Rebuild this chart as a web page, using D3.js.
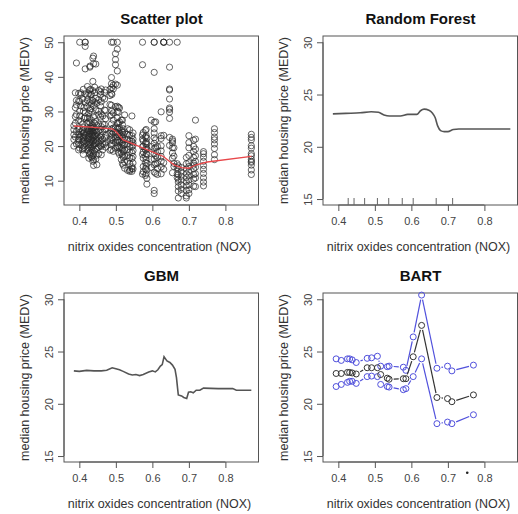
<!DOCTYPE html>
<html><head><meta charset="utf-8">
<script src="https://cdn.jsdelivr.net/npm/d3@7"></script>
<style>body{margin:0;background:#fff} text{font-family:"Liberation Sans",Arial,Helvetica,sans-serif}</style>
</head><body><svg id="c" width="518" height="514"></svg>
<script>
const panelTitles = ["Scatter plot", "Random Forest", "GBM", "BART"];
const xTitle = "nitrix oxides concentration (NOX)";
const yTitle = "median housing price (MEDV)";
const xTicks = [0.4, 0.5, 0.6, 0.7, 0.8];
const yTicksScatter = [10, 20, 30, 40, 50];
const yTicksModel = [15, 20, 25, 30];

// scatter: [nox, [medv values]]
const scatterGroups = [
[0.385,[21.9,24.7,20.0,23.3,25.9]],
[0.389,[26.6,31.1,35.4,28.5,22.6]],
[0.392,[33.2,29.1,44.0,24.2,20.6,31.9]],
[0.398,[18.9,21.7,20.5,23.3,24.8,22.0,33.0,35.2,27.4]],
[0.401,[25.0,50.0,32.9,22.6,28.7,30.1,19.4]],
[0.404,[35.4,31.6,34.9,27.1,24.1,22.8,20.4]],
[0.409,[24.4,20.1,21.4,22.6,19.3,18.9,24.8,26.4,33.6]],
[0.411,[30.1,25.3,23.5,22.2,21.2,36.4,17.6]],
[0.413,[23.9,22.5,21.7,19.6,28.0,31.2]],
[0.416,[20.8,23.1,35.1,32.5,29.6,28.4,42.3,50.0,48.8,50.0]],
[0.422,[37.2,34.6,28.1,24.1,22.0,21.4,24.8,26.6,31.5,33.3,19.0]],
[0.426,[19.5,20.4,22.3,24.5,29.4,18.6,16.5,23.4,35.2,27.0]],
[0.428,[22.8,24.2,25.1,36.2,32.6,28.0,20.9,17.8]],
[0.429,[42.8,21.1,19.8,17.5,23.6,26.7,30.3,43.1]],
[0.431,[18.2,20.5,22.0,24.3,30.8,34.9,36.4,25.6]],
[0.433,[19.4,21.7,23.4,25.0,27.5,32.2,35.0,16.9,24.4]],
[0.435,[16.6,18.8,21.2,22.9,24.4,26.2,29.8,33.2]],
[0.437,[15.6,17.2,19.9,22.4,24.1,33.1,36.0,38.7,45.4,23.2,25.3]],
[0.439,[14.4,16.0,17.8,20.3,22.6,25.3,28.5,31.7,46.0,43.8,21.5,24.0]],
[0.442,[18.5,20.6,22.9,26.6,35.4,37.0,24.6,32.7]],
[0.445,[16.2,19.1,20.8,23.2,24.5,27.1,30.5,33.8,21.9,43.7]],
[0.448,[14.6,17.4,19.4,21.5,24.0,25.9,32.4,22.7]],
[0.453,[17.8,19.7,22.2,24.3,26.4,29.0,30.1,33.4,36.1,20.9]],
[0.458,[20.1,22.6,24.8,28.4,34.9,35.7,31.6]],
[0.460,[17.5,19.9,21.6,23.0,25.6,32.8,36.5,29.3]],
[0.464,[18.9,20.6,22.0,24.1,28.7,34.0,26.3]],
[0.469,[20.5,22.4,24.8,26.2,33.6,35.5,30.4]],
[0.472,[19.7,21.0,23.1,25.0,30.3,36.2,27.9]],
[0.484,[18.8,21.5,23.7,28.7,34.6,36.4,32.0]],
[0.488,[19.0,20.3,22.5,24.4,26.4,29.0,35.2,38.0,39.8,50.0,31.8]],
[0.489,[20.8,22.0,23.4,25.0,30.1,34.9,36.9]],
[0.493,[18.5,21.6,23.9,27.5,36.5,37.6,50.0,25.2,29.6]],
[0.499,[19.4,21.0,22.6,24.0,25.5,31.4,43.5,45.0,46.7,37.9]],
[0.504,[21.6,23.7,25.0,26.7,28.1,30.0,31.5,37.6,48.0,50.0,41.7,19.6]],
[0.507,[18.2,20.1,21.7,23.3,24.9,26.6,29.8,31.2]],
[0.510,[17.6,19.5,21.2,22.7,23.8,25.3,27.0,31.0]],
[0.515,[16.1,18.0,19.6,21.4,23.0,24.4,27.5]],
[0.518,[15.0,17.4,19.2,20.9,22.3,26.2,27.5,24.0]],
[0.520,[14.5,16.8,18.5,20.3,21.8,23.3,25.0]],
[0.524,[13.6,15.4,17.1,18.9,20.4,22.2,24.1,29.0]],
[0.532,[15.6,17.3,19.0,20.6,21.9,23.4,25.0,13.0]],
[0.538,[13.1,14.9,16.6,18.2,19.9,21.5,23.1,24.7,12.7]],
[0.544,[12.7,14.0,16.4,18.1,19.8,21.4,23.0,28.7,13.5]],
[0.547,[13.4,15.1,17.0,18.7,20.2,22.0,23.8,20.9]],
[0.573,[11.9,17.6,19.8,22.0,23.2,43.5,50.0]],
[0.575,[12.6,14.1,16.5,18.3,20.0,21.5,23.9]],
[0.581,[11.5,13.4,15.2,17.0,18.9,20.8,22.6,24.5]],
[0.583,[12.0,14.2,16.1,17.8,19.6,21.2,23.0,24.8]],
[0.585,[9.0,10.7,13.1,15.0,17.6,19.1,20.6,22.3]],
[0.597,[13.8,16.2,19.9,27.5]],
[0.605,[6.3,7.2,12.5,14.6,16.3,17.8,19.3,20.8,22.4,23.8,25.0,26.9,41.3,50.0,50.0]],
[0.609,[12.1,14.9,17.2,19.6,21.8,27.0]],
[0.614,[11.8,13.6,15.0,16.8,18.4,19.9]],
[0.624,[12.0,14.0,15.6,17.0,18.6,20.1,22.2,23.0,29.9]],
[0.631,[13.3,15.2,50.0,50.0,50.0,23.1]],
[0.647,[20.2,22.5,28.0,29.8,30.6,31.0,33.6,36.2,36.5,42.8,50.0]],
[0.655,[12.3,16.5,19.5,20.9,21.5,22.0,18.0]],
[0.659,[15.0,17.1,19.5,14.1]],
[0.668,[12.0,13.8,14.9,10.9,50.0]],
[0.671,[5.0,7.0,8.3,9.6,10.4,11.7,13.3,14.3]],
[0.679,[6.3,7.5,8.8,10.2,11.3,12.5,13.8]],
[0.693,[5.0,5.6,7.2,8.5,9.7,10.9,12.1,13.4,14.9,16.7]],
[0.700,[6.3,7.4,8.8,10.2,11.5,12.7,14.1,15.2,17.3,19.5,21.0,23.0]],
[0.713,[8.4,10.5,11.8,13.4,14.5,15.1,16.7,18.4,19.9,21.7]],
[0.718,[8.3,10.8,12.0,13.9,15.6,17.2,19.1,22.0,27.5]],
[0.740,[8.5,9.6,10.8,12.1,13.3,14.4,15.6,16.8,17.8,18.4]],
[0.770,[16.1,17.5,19.3,20.6,21.8,22.6,23.9,25.0]],
[0.871,[11.8,13.1,14.5,15.3,15.6,16.2,17.2,17.8,19.4,20.1,21.8,22.5,23.4]]
];

const smoothLine = [[0.385,25.8],[0.43,25.5],[0.49,25.0],[0.50,24.2],[0.52,21.8],[0.55,20.5],[0.60,18.3],[0.63,17.0],[0.66,14.5],[0.68,13.8],[0.70,13.6],[0.72,14.6],[0.75,15.4],[0.871,17.0]];

const rfLine = [[0.385,23.15],[0.42,23.2],[0.46,23.25],[0.49,23.35],[0.51,23.3],[0.525,23.05],[0.54,22.95],[0.57,22.95],[0.59,23.1],[0.615,23.1],[0.625,23.45],[0.635,23.6],[0.648,23.5],[0.658,23.2],[0.665,22.8],[0.672,22.0],[0.68,21.55],[0.69,21.45],[0.70,21.45],[0.715,21.65],[0.73,21.7],[0.871,21.7]];
const rfRug = [0.427,0.443,0.472,0.507,0.538,0.575,0.605,0.668,0.713];

const gbmLine = [[0.385,23.15],[0.40,23.1],[0.42,23.2],[0.44,23.15],[0.46,23.15],[0.475,23.2],[0.49,23.45],[0.50,23.35],[0.51,23.25],[0.52,23.1],[0.535,22.85],[0.545,22.75],[0.555,22.8],[0.565,22.7],[0.575,22.8],[0.59,23.05],[0.60,23.15],[0.608,23.05],[0.615,23.25],[0.622,23.6],[0.627,23.75],[0.632,24.5],[0.636,24.3],[0.64,24.1],[0.648,23.95],[0.655,23.7],[0.662,23.3],[0.666,22.5],[0.669,21.5],[0.671,20.85],[0.68,20.75],[0.686,20.6],[0.694,20.5],[0.699,21.1],[0.705,21.15],[0.712,21.05],[0.72,21.3],[0.73,21.3],[0.74,21.5],[0.78,21.45],[0.82,21.45],[0.83,21.3],[0.871,21.3]];

const bartNox   = [0.394,0.408,0.425,0.431,0.438,0.449,0.479,0.491,0.507,0.516,0.534,0.539,0.578,0.585,0.605,0.628,0.670,0.699,0.711,0.770];
const bartMean  = [22.9,22.9,23.0,23.0,22.95,22.85,23.45,23.45,23.45,22.8,22.45,22.35,22.4,22.4,24.5,27.5,20.6,20.5,20.2,20.85];
const bartUpper = [24.3,24.15,24.3,24.3,24.2,23.95,24.35,24.4,24.55,23.6,23.55,23.6,23.5,23.2,26.4,30.4,23.4,23.6,23.15,23.7];
const bartLower = [21.65,21.85,22.05,22.15,22.15,21.95,22.6,22.65,22.6,21.85,21.65,21.6,21.35,21.45,22.6,24.3,18.1,18.25,18.1,18.95];
const bartStray = [[0.753, 13.4]];

const svg = d3.select("#c");
const PW = 259, PH = 257;
const box = {l: 64, r: 259, t: 36, b: 205};
const axisCol = "#555", textCol = "#333";

function panel(idx, yDomain, yTicks) {
  const g = svg.append("g").attr("transform", `translate(${(idx % 2) * PW},${Math.floor(idx / 2) * PH})`);
  const x = d3.scaleLinear().domain([0.358, 0.892]).range([box.l, box.r]);
  const y = d3.scaleLinear().domain(yDomain).range([box.b, box.t]);
  g.append("rect").attr("x", box.l).attr("y", box.t).attr("width", box.r - box.l - 0.5).attr("height", box.b - box.t)
    .attr("fill", "none").attr("stroke", axisCol).attr("stroke-width", 1);
  // x axis
  const xa = g.append("g").attr("transform", `translate(0,${box.b})`)
    .call(d3.axisBottom(x).tickValues(xTicks).tickSize(6).tickPadding(6).tickFormat(d3.format(".1f")));
  xa.select(".domain").attr("stroke", axisCol).attr("d", `M${x(xTicks[0])},0H${x(xTicks[xTicks.length-1])}`);
  xa.selectAll(".tick line").attr("stroke", axisCol);
  xa.selectAll(".tick text").attr("fill", "#444").style("font-size", "11px").style("font-family", '"Liberation Sans",Arial,sans-serif');
  // y axis
  const ya = g.append("g").attr("transform", `translate(${box.l},0)`)
    .call(d3.axisLeft(y).tickValues(yTicks).tickSize(6).tickPadding(0).tickFormat(d3.format("d")));
  ya.select(".domain").attr("stroke", axisCol).attr("d", `M0,${y(yTicks[0])}V${y(yTicks[yTicks.length-1])}`);
  ya.selectAll(".tick line").attr("stroke", axisCol);
  ya.selectAll(".tick text").attr("fill", "#444").style("font-size", "11px").style("font-family", '"Liberation Sans",Arial,sans-serif')
    .attr("x", null).attr("dy", null).attr("text-anchor", "middle")
    .attr("transform", "translate(-15,0) rotate(-90)").attr("dy", "0.35em");
  // titles
  g.append("text").attr("x", (box.l + box.r) / 2).attr("y", 24).attr("text-anchor", "middle")
    .style("font-size", "15px").style("font-weight", "bold").attr("fill", "#111").text(panelTitles[idx]);
  g.append("text").attr("x", (box.l + box.r) / 2 - 2).attr("y", 251).attr("text-anchor", "middle")
    .style("font-size", "12.5px").attr("fill", textCol).text(xTitle);
  g.append("text").attr("transform", `translate(29,${(box.t + box.b) / 2}) rotate(-90)`).attr("text-anchor", "middle")
    .style("font-size", "12.5px").attr("fill", textCol).text(yTitle);
  return {g, x, y};
}

// Panel 1: scatter
{
  const {g, x, y} = panel(0, [2.98, 51.8], yTicksScatter);
  const pts = scatterGroups.flatMap(([n, vs]) => vs.map(v => [n, v]));
  g.append("g").selectAll("circle").data(pts).join("circle")
    .attr("cx", d => x(d[0])).attr("cy", d => y(d[1])).attr("r", 3.1)
    .attr("fill", "none").attr("stroke", "#2a2a2a").attr("stroke-opacity", 0.8).attr("stroke-width", 0.9);
  g.append("path").datum(smoothLine).attr("fill", "none").attr("stroke", "#e8474a").attr("stroke-width", 1.3)
    .attr("d", d3.line().x(d => x(d[0])).y(d => y(d[1])));
}
// Panel 2: RF
{
  const {g, x, y} = panel(1, [14.43, 30.6], yTicksModel);
  g.append("path").datum(rfLine).attr("fill", "none").attr("stroke", "#555").attr("stroke-width", 1.6)
    .attr("d", d3.line().curve(d3.curveMonotoneX).x(d => x(d[0])).y(d => y(d[1])));
  g.append("g").selectAll("line").data(rfRug).join("line")
    .attr("x1", d => x(d)).attr("x2", d => x(d)).attr("y1", box.b).attr("y2", box.b - 7)
    .attr("stroke", "#666").attr("stroke-width", 1);
}
// Panel 3: GBM
{
  const {g, x, y} = panel(2, [14.43, 30.6], yTicksModel);
  g.append("path").datum(gbmLine).attr("fill", "none").attr("stroke", "#555").attr("stroke-width", 1.6)
    .attr("d", d3.line().x(d => x(d[0])).y(d => y(d[1])));
}
// Panel 4: BART
{
  const {g, x, y} = panel(3, [14.43, 30.6], yTicksModel);
  const gap = 4.6;
  function drawB(vals, col) {
    const p = bartNox.map((n, i) => [x(n), y(vals[i])]);
    const segs = [];
    for (let i = 0; i < p.length - 1; i++) {
      const dx = p[i+1][0] - p[i][0], dy = p[i+1][1] - p[i][1], d = Math.hypot(dx, dy);
      if (d > 2 * gap + 0.5) {
        const ux = dx / d, uy = dy / d;
        segs.push([p[i][0] + ux * gap, p[i][1] + uy * gap, p[i+1][0] - ux * gap, p[i+1][1] - uy * gap]);
      }
    }
    g.append("g").selectAll("line").data(segs).join("line")
      .attr("x1", s => s[0]).attr("y1", s => s[1]).attr("x2", s => s[2]).attr("y2", s => s[3])
      .attr("stroke", col).attr("stroke-width", 1.2);
    g.append("g").selectAll("circle").data(p).join("circle")
      .attr("cx", d => d[0]).attr("cy", d => d[1]).attr("r", 3)
      .attr("fill", "none").attr("stroke", col).attr("stroke-width", 1);
  }
  drawB(bartUpper, "#5050dc");
  drawB(bartLower, "#5050dc");
  drawB(bartMean, "#333");
  g.append("g").selectAll("circle").data(bartStray).join("circle")
    .attr("cx", d => x(d[0])).attr("cy", d => y(d[1])).attr("r", 1.3).attr("fill", "#222");
}
</script></body></html>
